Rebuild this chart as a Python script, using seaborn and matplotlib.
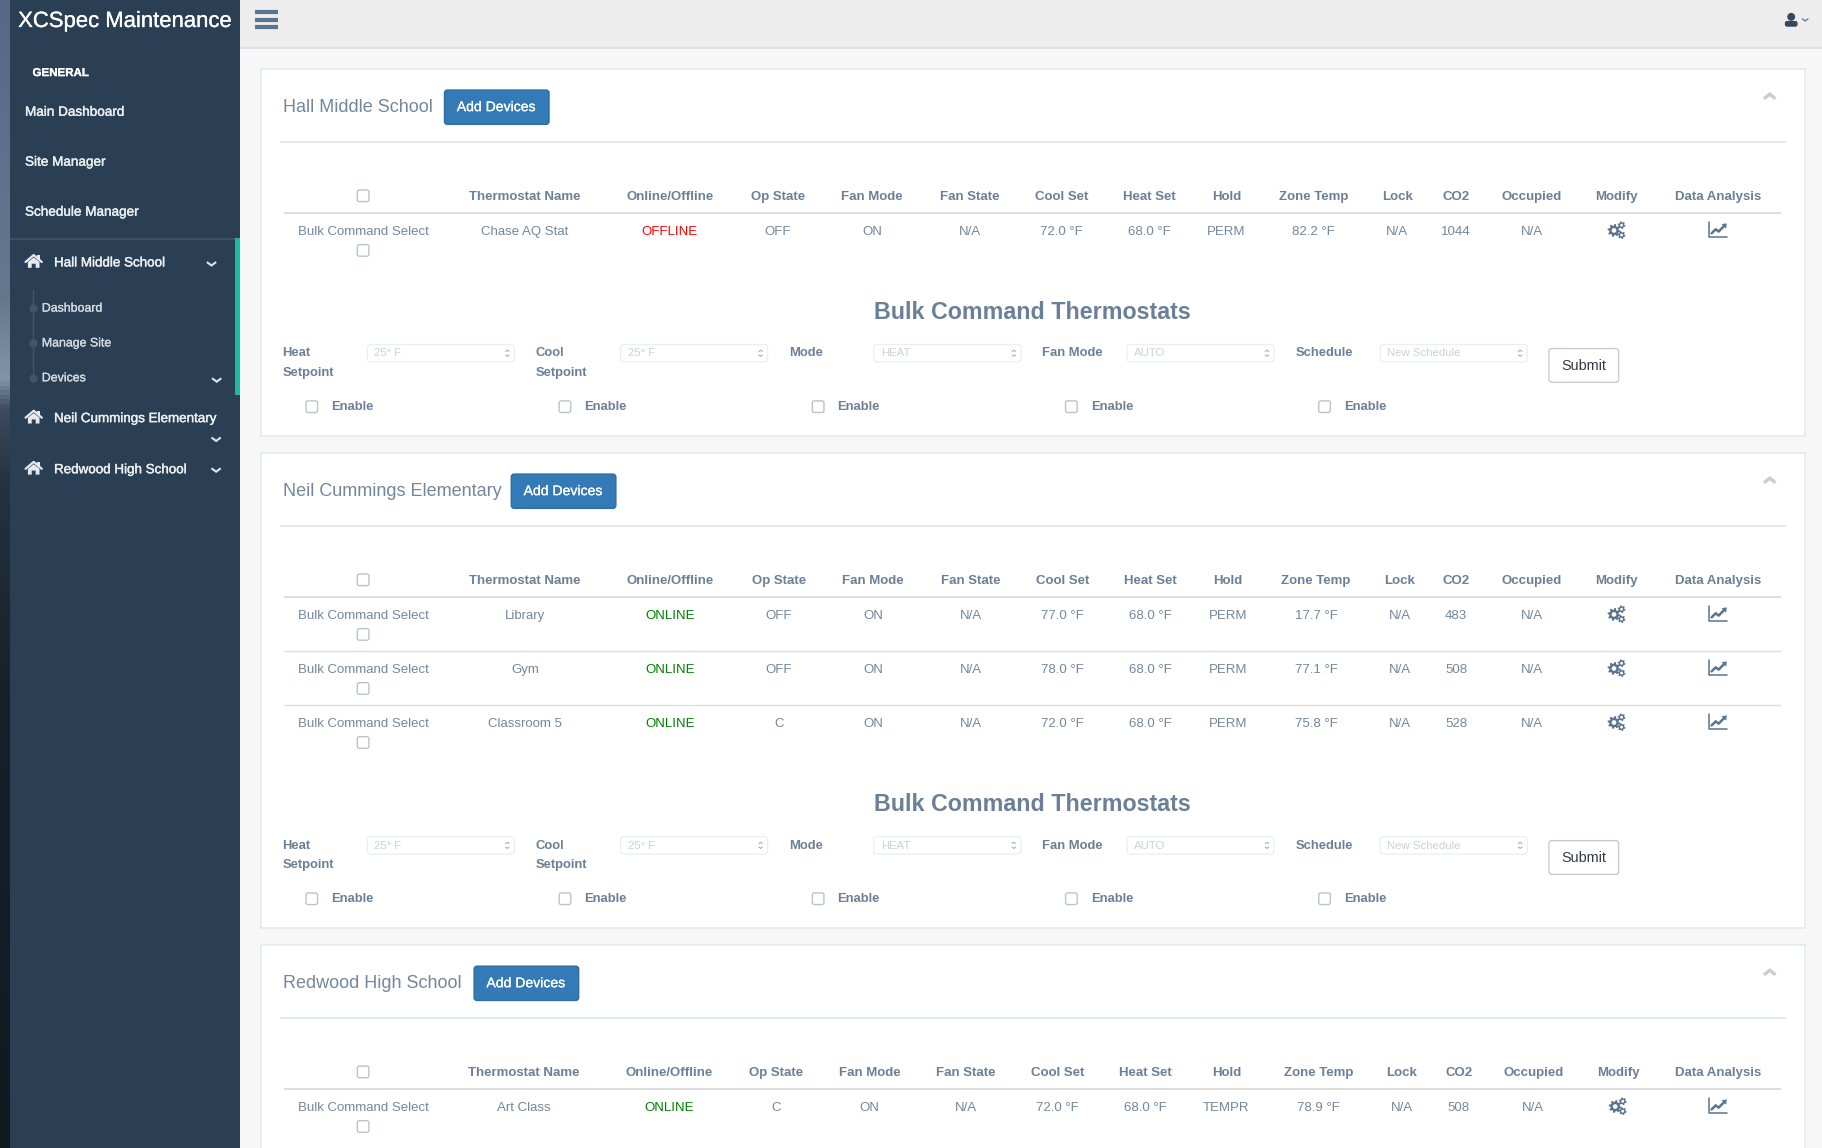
import numpy as np
import pandas as pd
import seaborn as sns
import matplotlib.pyplot as plt
import matplotlib.patheffects as pe
from matplotlib.patches import Rectangle, FancyBboxPatch, Polygon, Circle
from matplotlib.colors import LinearSegmentedColormap

# table contents
columns = ['Thermostat Name', 'Online/Offline', 'Op State', 'Fan Mode', 'Fan State', 'Cool Set',
           'Heat Set', 'Hold', 'Zone Temp', 'Lock', 'CO2', 'Occupied']
sites = ['Hall Middle School', 'Neil Cummings Elementary', 'Redwood High School']
site_of_row = [0, 1, 1, 1, 2]
names = ['Chase AQ Stat', 'Library', 'Gym', 'Classroom 5', 'Art Class']
status = ['OFFLINE', 'ONLINE', 'ONLINE', 'ONLINE', 'ONLINE']
op_state = ['OFF', 'OFF', 'OFF', 'C', 'C']
fan_mode = ['ON', 'ON', 'ON', 'ON', 'ON']
fan_state = ['N/A', 'N/A', 'N/A', 'N/A', 'N/A']
cool_set = [72.0, 77.0, 78.0, 72.0, 72.0]
heat_set = [68.0, 68.0, 68.0, 68.0, 68.0]
hold = ['PERM', 'PERM', 'PERM', 'PERM', 'TEMPR']
zone_temp = [82.2, 17.7, 77.1, 75.8, 78.9]
lock = ['N/A', 'N/A', 'N/A', 'N/A', 'N/A']
co2 = [1044, 483, 508, 528, 508]
occupied = ['N/A', 'N/A', 'N/A', 'N/A', 'N/A']

form_labels = [['Heat', 'Setpoint'], ['Cool', 'Setpoint'], ['Mode'], ['Fan Mode'], ['Schedule']]
form_values = ['25° F', '25° F', 'HEAT', 'AUTO', 'New Schedule']
menu_items = ['Main Dashboard', 'Site Manager', 'Schedule Manager']
sub_items = ['Dashboard', 'Manage Site', 'Devices']

df = pd.DataFrame({'site': site_of_row, 'Thermostat Name': names, 'Online/Offline': status,
                   'Op State': op_state, 'Fan Mode': fan_mode, 'Fan State': fan_state,
                   'Cool Set': [f'{v:.1f} °F' for v in cool_set],
                   'Heat Set': [f'{v:.1f} °F' for v in heat_set],
                   'Hold': hold, 'Zone Temp': [f'{v:.1f} °F' for v in zone_temp],
                   'Lock': lock, 'CO2': co2, 'Occupied': occupied})

# layout, in units of a 1568 wide page
card_top = [59, 389.5, 813]
card_bottom = [375, 799, 1010]
button_x = [382.5, 440, 408]
col_x = [[451.5, 576.5, 669.5, 750.5, 834.5, 913.5, 989, 1055.5, 1130.5, 1202.5, 1253, 1318.5],
         [452, 577, 670.5, 751.5, 835.5, 914.5, 990, 1056.5, 1132.5, 1204.5, 1253, 1318.5],
         [450.5, 575.5, 667.5, 748.5, 831.5, 910, 985.5, 1055.5, 1134.5, 1206.5, 1255.5, 1319.5]]
modify_x = [1391.5, 1391.5, 1392.5]
analysis_x = 1478.5
check_x = 312.5

TEXT = '#73879c'
HEAD = '#6b7f97'
DARK = '#2a3f54'
LINE = '#e6e9ed'
ICON = '#5a738e'

sns.set_theme(style='white')
plt.rcParams['font.family'] = ['Liberation Sans', 'DejaVu Sans']

fig = plt.figure(figsize=(18.22, 11.48), dpi=100, facecolor='#f7f7f7')
ax = fig.add_axes([0, 0, 1, 1])
ax.set_xlim(0, 1568)
ax.set_ylim(988, 0)
ax.axis('off')


def box(x0, y0, x1, y1, face='white', edge='none', lw=1, r=0, z=2):
    if r:
        p = FancyBboxPatch((x0 + r, y0 + r), x1 - x0 - 2 * r, y1 - y0 - 2 * r,
                           boxstyle=f'round,pad={r},rounding_size={r}', fc=face, ec=edge, lw=lw, zorder=z)
    else:
        p = Rectangle((x0, y0), x1 - x0, y1 - y0, fc=face, ec=edge, lw=lw, zorder=z)
    ax.add_patch(p)


def label(x, y, s, size=9.5, color=TEXT, weight='normal', ha='center', stroke=0):
    t = ax.text(x, y + 0.9, s, fontsize=size, color=color, fontweight=weight, ha=ha, va='center', zorder=5)
    if stroke:
        t.set_path_effects([pe.withStroke(linewidth=stroke, foreground=color)])


def hline(x0, x1, y, color=LINE, lw=1.5):
    ax.plot([x0, x1], [y, y], color=color, lw=lw, zorder=3, solid_capstyle='butt')


def chevron(x, y, w=4, h=3, color='#dfe3e8', lw=1.5, up=False):
    d = -h if up else h
    ax.plot([x - w, x, x + w], [y - d / 2, y + d / 2, y - d / 2], color=color, lw=lw, zorder=5,
            solid_joinstyle='miter', solid_capstyle='butt')


def checkbox(x, y):
    box(x - 5, y - 5, x + 5, y + 5, face='white', edge='#bcc3cb', lw=1, r=1.8, z=4)


def home(x, y, color='#e7e9ec'):
    ax.add_patch(Polygon([(x - 5, y + 0.5), (x, y - 3.5), (x + 5, y + 0.5), (x + 5, y + 5.5), (x + 1.7, y + 5.5),
                          (x + 1.7, y + 2), (x - 1.7, y + 2), (x - 1.7, y + 5.5), (x - 5, y + 5.5)],
                         fc=color, ec='none', zorder=5))
    ax.plot([x - 7, x, x + 7], [y + 0.5, y - 5.5, y + 0.5], color=color, lw=1.6, zorder=5)
    box(x + 3, y - 5.5, x + 5, y - 2, face=color, z=5)


def gear(x, y, r, teeth=8):
    ang = np.linspace(0, 2 * np.pi, teeth * 4, endpoint=False) + np.pi / (teeth * 4)
    rad = np.where(np.arange(teeth * 4) % 4 < 2, r, r * 0.72)
    ax.add_patch(Polygon(np.c_[x + rad * np.cos(ang), y + rad * np.sin(ang)], fc=ICON, ec='none', zorder=5))
    ax.add_patch(Circle((x, y), r * 0.36, fc='white', ec='none', zorder=6))


def gears(x, y):
    gear(x - 2.5, y + 0.5, 5.6)
    gear(x + 4, y - 4, 3.4, teeth=6)
    gear(x + 4, y + 4.5, 3.4, teeth=6)


def trend(x, y):
    ax.plot([x - 8, x - 8, x + 8], [y - 7, y + 6, y + 6], color=ICON, lw=1.1, zorder=5)
    ax.plot([x - 5.5, x - 2, x + 0.5, x + 5.5], [y + 3, y - 0.5, y + 1.5, y - 3.5], color=ICON, lw=1.8, zorder=5)
    ax.add_patch(Polygon([(x + 3, y - 5), (x + 7.5, y - 5.5), (x + 7, y - 1)], fc=ICON, ec='none', zorder=5))


# page frame
box(206.6, 0, 1568, 41, face='#ededed', z=1)
hline(206.6, 1568, 41.5, color='#d9dee4', lw=1.2)
for yy in [10.5, 17, 23.5]:
    ax.plot([219.5, 239], [yy, yy], color=ICON, lw=3, zorder=5, solid_capstyle='butt')
ax.add_patch(Circle((1541.5, 14.5), 3.4, fc='#34495e', ec='none', zorder=5))
box(1536, 18, 1547, 23, face='#34495e', r=2, z=5)
chevron(1553.5, 17, w=2.8, h=2, color=ICON, lw=0.9)

# sidebar
strip = LinearSegmentedColormap.from_list('strip', [(0, '#55688a'), (0.26, '#66788f'), (0.33, '#8494a8'),
                                                    (0.355, '#3c4b5e'), (0.42, '#253240'), (0.6, '#18212b'),
                                                    (1, '#121820')])
ax.imshow(np.linspace(0, 1, 256).reshape(-1, 1), cmap=strip, extent=(0, 9, 988, 0), aspect='auto', zorder=1)
ax.set_xlim(0, 1568)
ax.set_ylim(988, 0)
box(8.6, 0, 206.6, 988, face=DARK, z=2)
hline(9, 206.6, 205.5, color='#425668', lw=1.2)
box(202.2, 205, 206.6, 340, face='#1abb9c', z=3)

label(108, 17.6, 'XCSpec Maintenance', size=15.9, color='white', stroke=0.2)
label(28, 62, 'GENERAL', size=8.3, color='white', weight='bold', ha='left', stroke=0.2)
for yy, s in zip([95.3, 138.3, 181.3], menu_items):
    label(21.5, yy, s, size=9.75, color='#eceef0', ha='left', stroke=0.3)

for yy, s in zip([225.8, 359.8, 403.8], sites):
    label(46.5, yy, s, size=9.65, color='#eceef0', ha='left', stroke=0.3)
for yy in [225, 359, 403]:
    home(29, yy)
chevron(182, 227)
chevron(186, 378)
chevron(186, 404.5)
chevron(186.5, 327)

ax.plot([28, 28], [250, 325], color='#425668', lw=1, zorder=3)
dots = pd.DataFrame({'x': [28, 28, 28], 'y': [265, 295, 325]})
sns.scatterplot(data=dots, x='x', y='y', ax=ax, s=36, color='#425668', linewidth=0, zorder=4, legend=False)
for yy, s in zip(dots['y'], sub_items):
    label(36, yy - 0.3, s, size=8.9, color='#d5dae0', ha='left', stroke=0.2)

# one panel per site
for i, site in enumerate(sites):
    top = card_top[i]
    box(224.5, top, 1553, card_bottom[i], face='white', edge=LINE, lw=1.2, z=2)
    label(243.5, top + 32.2, site, size=13.0, ha='left')
    bx = button_x[i]
    box(bx, top + 18.5, bx + 90, top + 48, face='#337ab7', edge='#2e6da4', lw=1, r=2.5, z=3)
    label(bx + 44.5, top + 32.3, 'Add Devices', size=10.1, color='white', stroke=0.15)
    chevron(1523, top + 24, w=5, h=4, color='#c9ced4', lw=2.4, up=True)
    hline(241, 1537, top + 63.5)

    head_y = top + 109.5
    checkbox(check_x, head_y)
    for x, c in zip(col_x[i], columns):
        label(x, head_y, c, size=9.5, color=HEAD, weight='bold')
    label(modify_x[i], head_y, 'Modify', size=9.5, color=HEAD, weight='bold')
    label(analysis_x, head_y, 'Data Analysis', size=9.5, color=HEAD, weight='bold')
    hline(244, 1533, head_y + 15, color='#dddddd', lw=1.4)

    rows = df[df['site'] == i]
    y = head_y + 30
    for n, (_, row) in enumerate(rows.iterrows()):
        if n:
            hline(244, 1533, y - 15, color='#dddddd', lw=1)
        label(check_x, y, 'Bulk Command Select')
        checkbox(check_x, y + 17)
        for x, c in zip(col_x[i], columns):
            color = TEXT
            if c == 'Online/Offline':
                color = '#ff0000' if row[c] == 'OFFLINE' else '#008000'
            label(x, y, str(row[c]), color=color)
        gears(modify_x[i], y - 0.7)
        trend(analysis_x, y - 0.7)
        y += 46.5

    # bulk command form, only under the first two panels in view
    if i < 2:
        base = y - 46.5 + 69
        label(888.5, base + 0.5, 'Bulk Command Thermostats', size=16.75, color=HEAD, weight='bold')
        for k in range(5):
            fx = 243.2 + 217.9 * k
            for m, s in enumerate(form_labels[k]):
                label(fx, base + 35.8 + 16.8 * m, s, size=9.4, color=HEAD, weight='bold', ha='left')
            sx = fx + 73
            sw = 126.5
            box(sx, base + 29, sx + sw, base + 44, face='white', edge='#eceef0', lw=0.9, r=3, z=3)
            label(sx + 6, base + 35.8, form_values[k], size=8.2, color='#cbd1d7', ha='left')
            chevron(sx + sw - 6, base + 34.5, w=1.7, h=1.4, color='#9aa5b1', lw=0.7, up=True)
            chevron(sx + sw - 6, base + 38.5, w=1.7, h=1.4, color='#9aa5b1', lw=0.7)
            checkbox(268.3 + 217.9 * k, base + 82.5)
            label(285 + 217.9 * k, base + 81.8, 'Enable', size=9.4, color=HEAD, weight='bold', ha='left')
        box(1333, base + 32.5, 1393, base + 61.5, face='white', edge='#c8ccd0', lw=1, r=2.5, z=3)
        label(1363, base + 46.3, 'Submit', size=10.4, color='#333b47')

fig.savefig('out.png', dpi=100, facecolor=fig.get_facecolor())
